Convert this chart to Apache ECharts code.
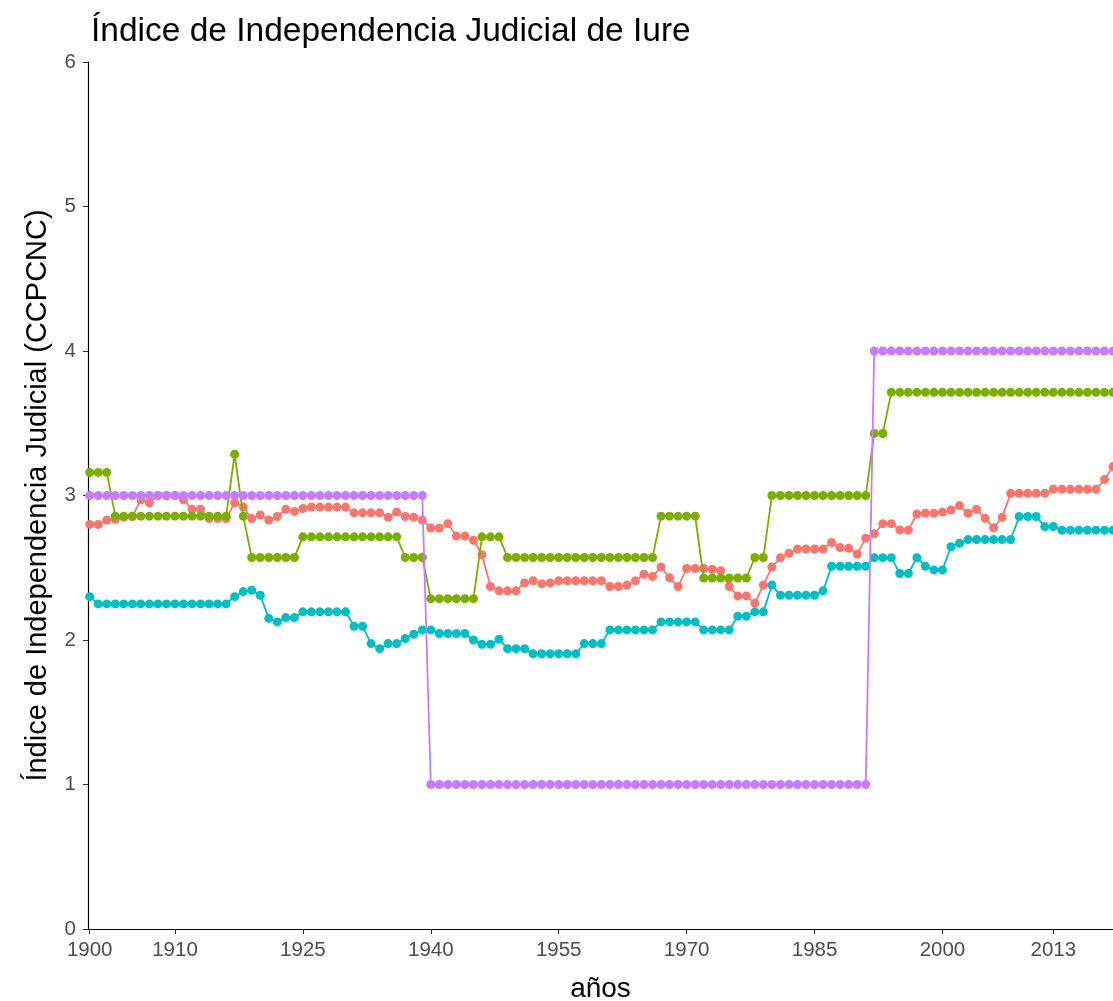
<!DOCTYPE html>
<html>
<head>
<meta charset="utf-8">
<script src="https://cdn.jsdelivr.net/npm/echarts@6.0.0/dist/echarts.min.js"></script>
<style>
  html, body { margin: 0; padding: 0; background: #fff; overflow: hidden; }
  #chart { width: 1113px; height: 1001px; }
</style>
</head>
<body>
<div id="chart"></div>
<script>
// years 1900..2020, one value per year
const firstYear = 1900;
const xTickYears = [1900, 1910, 1925, 1940, 1955, 1970, 1985, 2000, 2013];

const serieRoja = [
  2.80, 2.80, 2.83, 2.835, 2.85, 2.855, 2.97, 2.95, 3.00, 3.00,
  3.00, 2.97, 2.905, 2.905, 2.84, 2.84, 2.84, 2.95, 2.92, 2.84,
  2.865, 2.83, 2.855, 2.905, 2.89, 2.91, 2.92, 2.92, 2.92, 2.92,
  2.92, 2.88, 2.88, 2.88, 2.88, 2.85, 2.885, 2.855, 2.85, 2.83,
  2.775, 2.775, 2.805, 2.72, 2.72, 2.69, 2.59, 2.37, 2.34, 2.34,
  2.34, 2.395, 2.41, 2.39, 2.395, 2.41, 2.41, 2.41, 2.41, 2.41,
  2.41, 2.37, 2.37, 2.38, 2.41, 2.455, 2.44, 2.505, 2.43, 2.37,
  2.495, 2.495, 2.495, 2.49, 2.48, 2.37, 2.305, 2.305, 2.255, 2.38,
  2.505, 2.57, 2.60, 2.63, 2.63, 2.63, 2.63, 2.675, 2.64, 2.635,
  2.595, 2.705, 2.735, 2.805, 2.805, 2.762, 2.76, 2.872, 2.877, 2.877,
  2.885, 2.90, 2.93, 2.877, 2.905, 2.842, 2.777, 2.85, 3.015, 3.015,
  3.015, 3.015, 3.015, 3.043, 3.043, 3.043, 3.043, 3.043, 3.043, 3.11,
  3.20
];

const serieVerde = [
  3.16, 3.16, 3.16, 2.857, 2.857, 2.857, 2.857, 2.857, 2.857, 2.857,
  2.857, 2.857, 2.857, 2.857, 2.857, 2.857, 2.857, 3.286, 2.857, 2.571,
  2.571, 2.571, 2.571, 2.571, 2.571, 2.714, 2.714, 2.714, 2.714, 2.714,
  2.714, 2.714, 2.714, 2.714, 2.714, 2.714, 2.714, 2.571, 2.571, 2.571,
  2.286, 2.286, 2.286, 2.286, 2.286, 2.286, 2.714, 2.714, 2.714, 2.571,
  2.571, 2.571, 2.571, 2.571, 2.571, 2.571, 2.571, 2.571, 2.571, 2.571,
  2.571, 2.571, 2.571, 2.571, 2.571, 2.571, 2.571, 2.857, 2.857, 2.857,
  2.857, 2.857, 2.429, 2.429, 2.429, 2.429, 2.429, 2.429, 2.571, 2.571,
  3.00, 3.00, 3.00, 3.00, 3.00, 3.00, 3.00, 3.00, 3.00, 3.00,
  3.00, 3.00, 3.429, 3.429, 3.714, 3.714, 3.714, 3.714, 3.714, 3.714,
  3.714, 3.714, 3.714, 3.714, 3.714, 3.714, 3.714, 3.714, 3.714, 3.714,
  3.714, 3.714, 3.714, 3.714, 3.714, 3.714, 3.714, 3.714, 3.714, 3.714,
  3.714
];

const serieCian = [
  2.30, 2.25, 2.25, 2.25, 2.25, 2.25, 2.25, 2.25, 2.25, 2.25,
  2.25, 2.25, 2.25, 2.25, 2.25, 2.25, 2.25, 2.30, 2.335, 2.345,
  2.31, 2.15, 2.125, 2.155, 2.155, 2.195, 2.195, 2.195, 2.195, 2.195,
  2.195, 2.095, 2.095, 1.975, 1.94, 1.975, 1.975, 2.01, 2.04, 2.07,
  2.07, 2.045, 2.045, 2.045, 2.045, 2.00, 1.97, 1.97, 2.005, 1.94,
  1.94, 1.94, 1.905, 1.905, 1.905, 1.905, 1.905, 1.905, 1.975, 1.975,
  1.975, 2.07, 2.07, 2.07, 2.07, 2.07, 2.07, 2.125, 2.125, 2.125,
  2.125, 2.125, 2.07, 2.07, 2.07, 2.07, 2.165, 2.165, 2.195, 2.195,
  2.38, 2.31, 2.31, 2.31, 2.31, 2.31, 2.34, 2.51, 2.51, 2.51,
  2.51, 2.51, 2.57, 2.57, 2.57, 2.46, 2.46, 2.57, 2.51, 2.485,
  2.485, 2.645, 2.67, 2.695, 2.695, 2.695, 2.695, 2.695, 2.695, 2.855,
  2.855, 2.855, 2.785, 2.785, 2.76, 2.76, 2.76, 2.76, 2.76, 2.76,
  2.76
];

const serieVioleta = [
  3, 3, 3, 3, 3, 3, 3, 3, 3, 3,
  3, 3, 3, 3, 3, 3, 3, 3, 3, 3,
  3, 3, 3, 3, 3, 3, 3, 3, 3, 3,
  3, 3, 3, 3, 3, 3, 3, 3, 3, 3,
  1, 1, 1, 1, 1, 1, 1, 1, 1, 1,
  1, 1, 1, 1, 1, 1, 1, 1, 1, 1,
  1, 1, 1, 1, 1, 1, 1, 1, 1, 1,
  1, 1, 1, 1, 1, 1, 1, 1, 1, 1,
  1, 1, 1, 1, 1, 1, 1, 1, 1, 1,
  1, 1, 4, 4, 4, 4, 4, 4, 4, 4,
  4, 4, 4, 4, 4, 4, 4, 4, 4, 4,
  4, 4, 4, 4, 4, 4, 4, 4, 4, 4,
  4
];

const colores = ['#F8766D', '#7CAE00', '#00BFC4', '#C77CFF'];
const nombres = ['A', 'B', 'C', 'D'];
const fuente = '"Liberation Sans", Arial, sans-serif';

function pares(valores) {
  return valores.map((v, i) => [firstYear + i, v]);
}

const series = [serieRoja, serieVerde, serieCian, serieVioleta].map((vals, k) => ({
  name: nombres[k],
  type: 'line',
  data: pares(vals),
  symbol: 'circle',
  symbolSize: 9,
  showAllSymbol: true,
  lineStyle: { color: colores[k], width: 1.8 },
  itemStyle: { color: colores[k] },
  emphasis: { disabled: true },
  z: 2 + k
}));

const option = {
  animation: false,
  backgroundColor: '#fff',
  textStyle: { fontFamily: fuente },
  title: {
    text: 'Índice de Independencia Judicial de Iure',
    left: 86,
    top: 10,
    textStyle: { fontFamily: fuente, fontSize: 33.5, fontWeight: 'normal', color: '#000' }
  },
  grid: { left: 88, right: 0, top: 62, bottom: 72, outerBoundsMode: 'none', containLabel: false },
  xAxis: {
    type: 'value',
    min: 1899.8,
    max: 2020,
    name: 'años',
    nameLocation: 'middle',
    nameGap: 46,
    nameTextStyle: { fontFamily: fuente, fontSize: 28, color: '#000' },
    axisLine: { show: true, lineStyle: { color: '#000', width: 1.2 } },
    axisTick: { show: true, customValues: xTickYears, length: 5, lineStyle: { color: '#333' } },
    axisLabel: {
      customValues: xTickYears,
      formatter: v => String(v),
      fontFamily: fuente, fontSize: 20.5, color: '#4D4D4D', margin: 11
    },
    splitLine: { show: false }
  },
  yAxis: {
    type: 'value',
    min: 0,
    max: 6,
    interval: 1,
    name: 'Índice de Independencia Judicial (CCPCNC)',
    nameLocation: 'middle',
    nameGap: 36,
    nameTextStyle: { fontFamily: fuente, fontSize: 29, color: '#000' },
    axisLine: { show: true, lineStyle: { color: '#000', width: 1.2 } },
    axisTick: { show: true, length: 5, lineStyle: { color: '#333' } },
    axisLabel: { fontFamily: fuente, fontSize: 20.5, color: '#4D4D4D', margin: 12 },
    splitLine: { show: false }
  },
  series: series
};

const myChart = echarts.init(document.getElementById('chart'), null, { renderer: 'canvas' });
myChart.setOption(option);
</script>
</body>
</html>
